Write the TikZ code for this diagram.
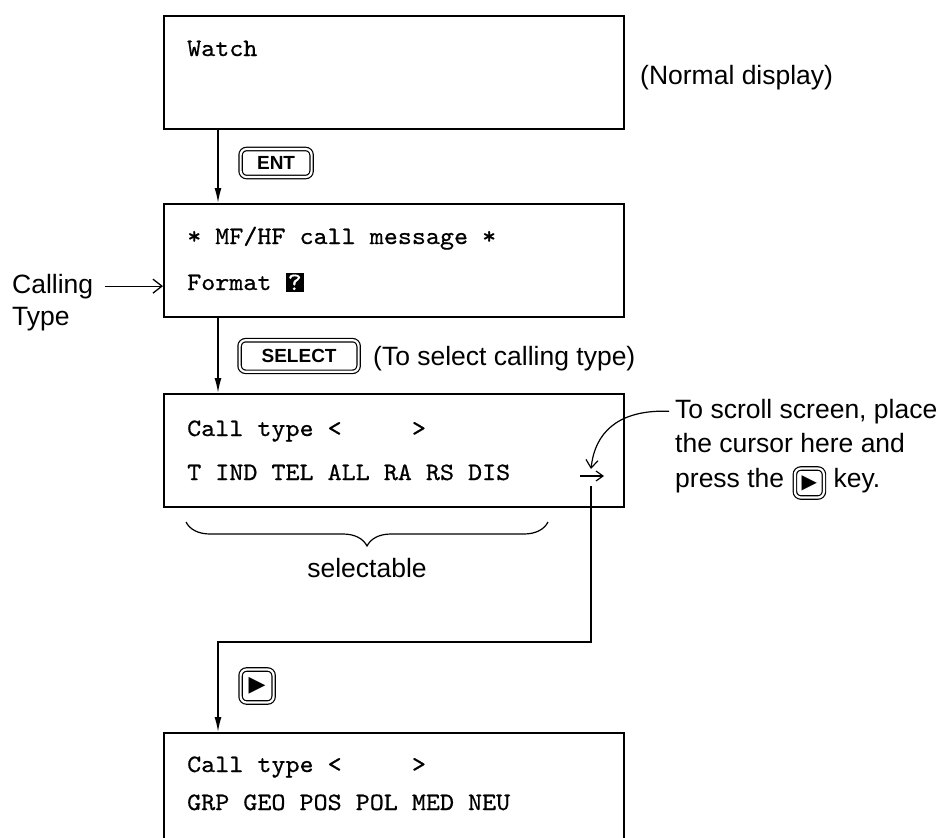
\documentclass[tikz,border=0pt]{standalone}
\usepackage{fontspec}
\usepackage{graphicx}
\setmainfont{Liberation Sans}
\newfontfamily\symfont{DejaVu Sans}
\newfontfamily\dispmono{lmmono10-regular.otf}[FakeBold=0.6]
\usetikzlibrary{arrows.meta,decorations.pathreplacing,calc}
\newcommand\disptxt[1]{{\dispmono\fontsize{25}{30}\selectfont\scalebox{1.07}[1]{#1}}}
\newcommand\invq{{\setlength\fboxsep{2pt}\colorbox{black}{\textcolor{white}{?}}}}
\begin{document}
\begin{tikzpicture}[x=1pt,y=-1pt,
  screen/.style={draw, line width=1.8pt, minimum width=460pt, minimum height=113pt, inner sep=0pt, anchor=north west},
  mono/.style={inner sep=0pt, anchor=base west},
  lbl/.style={inner sep=0pt, anchor=base west, font=\fontsize{26.5}{30}\selectfont},
  keycap/.style={draw, line width=1.2pt, double, double distance=2.2pt, rounded corners=6pt, inner sep=0pt, minimum height=28pt, font=\bfseries\fontsize{19}{19}\selectfont},
  flow/.style={line width=1.5pt, -{Latex[length=15pt,width=7pt]}},
  ptr/.style={line width=1.3pt, -{Straight Barb[length=9pt,width=14pt]}},
  brc/.style={line width=1.2pt, decorate, decoration={brace, amplitude=24pt, mirror}}
]
\useasboundingbox (0,0) rectangle (946,838);
\fill[white] (0,0) rectangle (946,838);
\clip (0,0) rectangle (946,838);

% screens
\node[screen] (s1) at (163,15) {};
\node[screen] (s2) at (163,203) {};
\node[screen] (s3) at (163,393) {};
\node[screen] (s4) at (163,732) {};

% screen texts
\node[mono] (w1) at (187,56) {\disptxt{Watch}};
\node[mono] (m1) at (187,244) {\disptxt{* MF/HF call message *}};
\node[mono] (m2) at (187,290) {\disptxt{Format \invq}};
\node[mono] (c1) at (187,436) {\disptxt{Call type <~~~~~>}};
\node[mono] (c2) at (187,480) {\disptxt{T IND TEL ALL RA RS DIS}};
\node[mono] (d1) at (187,772) {\disptxt{Call type <~~~~~>}};
\node[mono] (d2) at (187,810) {\disptxt{GRP GEO POS POL MED NEU}};

% side labels
\node[lbl] (normal) at (640,84) {(Normal display)};
\node[lbl] (calling) at (12,293) {Calling};
\node[lbl] (ctype) at (12,325) {Type};
\node[lbl] (tosel) at (373,365) {(To select calling type)};
\node[lbl] (scr1) at (675,418) {To scroll screen, place};
\node[lbl] (scr2) at (675,452) {the cursor here and};
\node[lbl] (scr3) at (675,487) {press the};
\node[keycap, minimum width=29pt, minimum height=29pt] (kp2) at ($(scr3.base east)+(25,-4)$) {\symfont\fontsize{20}{20}\selectfont ▶};
\node[lbl] (scr4) at ($(kp2.east)+(9,4)$) {key.};
\node[lbl, anchor=base] (sel) at (367,577) {selectable};

% keys
\node[keycap, minimum width=71pt, anchor=west] (kent) at (240,163) {ENT};
\node[keycap, minimum width=119pt, minimum height=31.6pt, anchor=west] (ksel) at (239,356) {SELECT};
\node[keycap, minimum width=33pt, minimum height=33pt, anchor=west] (kp1) at (240,686) {\symfont\fontsize{22}{22}\selectfont ▶};

% flow arrows
\draw[flow] ([xshift=55pt]s1.south west) -- ([xshift=55pt]s2.north west);
\draw[flow] ([xshift=55pt]s2.south west) -- ([xshift=55pt]s3.north west);

% calling pointer
\draw[ptr] ([xshift=12pt]calling.east) -- (calling.east -| s2.west);

% small scroll arrow in screen 3
\coordinate (sa1) at (580,476);
\coordinate (sa2) at (604,476);
\draw[line width=1.2pt, -{Straight Barb[length=7pt,width=10pt]}] (sa1) -- (sa2);

% curved pointer
\coordinate (cv) at (591,469);
\draw[ptr, line width=1.2pt, -{Straight Barb[length=8pt,width=12pt]}] ([xshift=-6pt]scr1.west) -- ++(-8,0) .. controls (618,412) and (595,432) .. (cv);

% connector to screen 4
\coordinate (c0) at (591,486);
\coordinate (c1) at (591,642);
\coordinate (c2) at (218,642);
\draw[flow] (c0) -- (c1) -- (c2) -- (c2 |- s4.north);

% brace
\coordinate (brL) at (186,522);
\coordinate (brR) at (548,522);
\draw[brc] (brL) -- (brR);
\end{tikzpicture}
\end{document}
